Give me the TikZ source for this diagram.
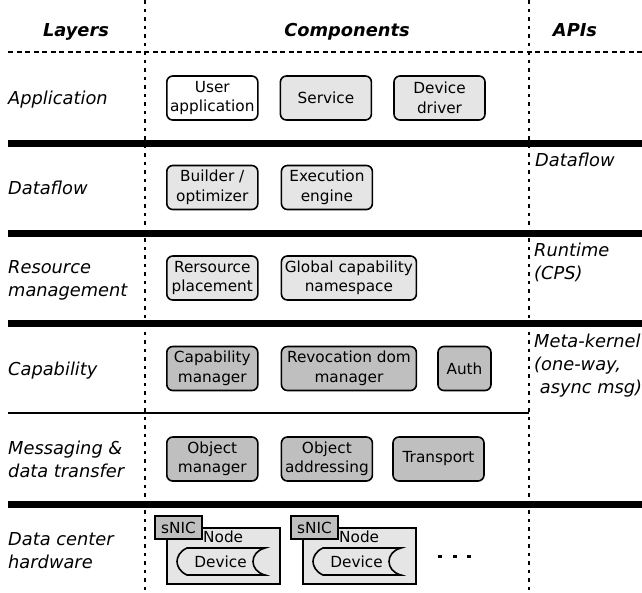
\documentclass[tikz,border=0pt]{standalone}
\usepackage{fontspec}
\setmainfont{DejaVu Sans}
\usepackage{tikz}
\usetikzlibrary{positioning}

\definecolor{lightbox}{gray}{0.9}
\definecolor{darkbox}{gray}{0.75}

\begin{document}
\begin{tikzpicture}
    [
    x=1pt, y=-1pt,
    node distance = 21pt,
    box/.style = {draw, rectangle, rounded corners=6pt, line width=1.6pt, fill=lightbox, minimum width=91pt, minimum height=44pt, inner sep=2pt, align=center, font=\fontsize{15.3}{19.5}\selectfont},
    wide/.style = {minimum width=135pt},
    dark/.style = {fill=darkbox},
    layer/.style = {anchor=base west, align=left, inner sep=0pt, font=\fontsize{17.8}{23}\selectfont\itshape},
    head/.style = {anchor=base, inner sep=0pt, font=\fontsize{17.8}{21}\selectfont\bfseries\itshape},
    hwnode/.style = {draw, rectangle, line width=1.6pt, fill=lightbox, minimum width=113pt, minimum height=56pt},
    snic/.style = {draw, rectangle, line width=1.6pt, fill=darkbox, minimum width=47pt, minimum height=23pt, inner sep=1pt, font=\fontsize{15.3}{18}\selectfont},
    small/.style = {inner sep=0pt, font=\fontsize{15.3}{18}\selectfont},
    bar/.style = {line width=7pt},
    divider/.style = {line width=2pt, dash pattern=on 3.5pt off 5pt}
    ]
    \useasboundingbox (0,0) rectangle (642,592);

% Grid
    \draw[line width=2pt, dash pattern=on 5pt off 3.5pt] (8,52) -- (642,52);
    \draw[divider] (145,0) -- (145,592);
    \draw[divider] (529,0) -- (529,592);
    \draw[bar] (8,143) -- (642,143);
    \draw[bar] (8,233) -- (642,233);
    \draw[bar] (8,323) -- (642,323);
    \draw[line width=2pt] (8,413) -- (529,413);
    \draw[bar] (8,504) -- (642,504);

% Headers
    \node[head] (hlayers) at (76,36) {Layers};
    \node[head] (hcomp) at (347,36) {Components};
    \node[head] (hapis) at (575,36) {APIs};

% Layers (base is the last line)
    \node[layer] (lapp) at (8,104) {Application};
    \node[layer] (ldata) at (8,194) {Dataflow};
    \node[layer] (lres) at (8,296) {Resource\\management};
    \node[layer] (lcap) at (8,375) {Capability};
    \node[layer] (lmsg) at (8,477) {Messaging \&\\data transfer};
    \node[layer] (lhw) at (8,568) {Data center\\hardware};

% APIs
    \node[layer] (adata) at (535,166) {Dataflow};
    \node[layer] (aruntime) at (534,279) {Runtime\\(CPS)};
    \node[layer] (akernel) at (534,393) {Meta-kernel\\(one-way,\\\ async msg)};

% Application
    \node[box, fill=white, anchor=west] (userapp) at (166,98) {User\\application};
    \node[box, right=of userapp] (service) {Service};
    \node[box, right=of service] (driver) {Device\\driver};

% Dataflow
    \node[box, anchor=west] (builder) at (166,187.5) {Builder /\\optimizer};
    \node[box, right=22pt of builder] (engine) {Execution\\engine};

% Resource management
    \node[box, anchor=west] (placement) at (166,278) {Rersource\\placement};
    \node[box, wide, right=22pt of placement] (namespace) {Global capability\\namespace};

% Capability
    \node[box, dark, anchor=west] (capmgr) at (166,368.5) {Capability\\manager};
    \node[box, dark, wide, right=22pt of capmgr] (revoke) {Revocation dom\\manager};
    \node[box, dark, minimum width=53pt, right=20pt of revoke] (auth) {Auth};

% Messaging
    \node[box, dark, anchor=west] (objmgr) at (166,459) {Object\\manager};
    \node[box, dark, right=22pt of objmgr] (objaddr) {Object\\addressing};
    \node[box, dark, right=19pt of objaddr] (transport) {Transport};

% Hardware
    \foreach \i/\dx in {1/0, 2/136} {
      \begin{scope}[xshift=\dx pt]
        \node[hwnode] (node\i) at (223.5,556) {};
        \node[snic] (snic\i) at (178.5,527.5) {sNIC};
        \node[small, anchor=base west] (nodetxt\i) at (203,542) {Node};
        \draw[line width=1.6pt, fill=lightbox] (187,548) -- (265,548)
          .. controls (249,552) and (249,571) .. (265,575) -- (187,575)
          .. controls (180,572) and (177,566) .. (177,561.5)
          .. controls (177,557) and (180,551) .. (187,548) -- cycle;
        \node[small] (dev\i) at (220.5,561.5) {Device};
      \end{scope}
    }
    \foreach \x in {440,455,469}
      \fill (\x-1.8,554.7) rectangle (\x+1.8,558.3);

\end{tikzpicture}
\end{document}
